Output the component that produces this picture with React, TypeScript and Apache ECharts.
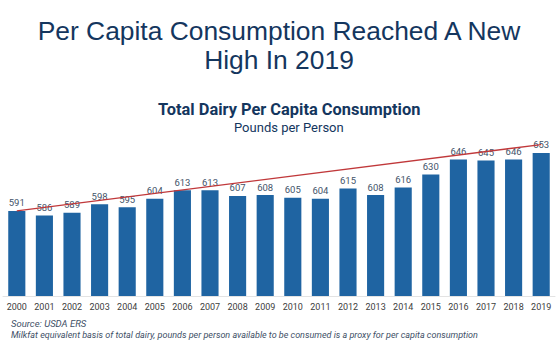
import React, { useEffect, useRef } from "react";
import * as echarts from "echarts";

const years = ["2000","2001","2002","2003","2004","2005","2006","2007","2008","2009","2010","2011","2012","2013","2014","2015","2016","2017","2018","2019"];
const consumption = [591,586,589,598,595,604,613,613,607,608,605,604,615,608,616,630,646,645,646,653];
const trendLine: (number | null)[] = [591,null,null,null,null,null,null,null,null,null,null,null,null,null,null,null,null,null,null,662];

export default function App() {
  const ref = useRef<HTMLDivElement>(null);
  useEffect(() => {
    if (!ref.current) return;
    const chart = echarts.init(ref.current, null, { renderer: "svg" });
    chart.setOption({
      animation: false,
      backgroundColor: "#ffffff",
      title: [
        {
          text: "Per Capita Consumption Reached A New\nHigh In 2019",
          left: "center",
          top: 11,
          textStyle: { fontFamily: "Liberation Sans", fontSize: 26.4, fontWeight: "normal", color: "#14365e", lineHeight: 29 },
        },
        {
          text: "Total Dairy Per Capita Consumption",
          left: 153,
          top: 96,
          textStyle: { fontFamily: "Roboto", fontSize: 16.4, fontWeight: "bold", color: "#14365e" },
        },
        {
          text: "Pounds per Person",
          left: 229,
          top: 116,
          textStyle: { fontFamily: "Roboto", fontSize: 13, fontWeight: "normal", color: "#14365e" },
        },
        {
          text: "Source: USDA ERS",
          left: 6,
          top: 313,
          textStyle: { fontFamily: "Roboto", fontSize: 9.5, fontStyle: "italic", fontWeight: "normal", color: "#3e4f66" },
        },
        {
          text: "Milkfat equivalent basis of total dairy, pounds per person available to be consumed is a proxy for per capita consumption",
          left: 6,
          top: 325,
          textStyle: { fontFamily: "Roboto", fontSize: 9, fontStyle: "italic", fontWeight: "normal", color: "#3e4f66" },
        },
      ],
      grid: { left: 3, right: 3, top: 109, bottom: 54 },
      xAxis: {
        type: "category",
        data: years,
        axisLine: { lineStyle: { color: "#e3e3e3" } },
        axisTick: { show: false },
        axisLabel: { fontFamily: "Roboto", fontSize: 9, color: "#404040", margin: 6, interval: 0 },
      },
      yAxis: { type: "value", min: 500, max: 700, show: false, splitLine: { show: false } },
      series: [
        {
          type: "bar",
          data: consumption,
          barWidth: "62%",
          itemStyle: { color: "#1f64a2" },
          label: { show: true, position: "top", distance: 3, fontFamily: "Roboto", fontSize: 9.5, color: "#44546a" },
          z: 2,
        },
        {
          type: "line",
          data: trendLine,
          connectNulls: true,
          symbol: "none",
          lineStyle: { color: "#c0383a", width: 1.3 },
          z: 3,
        },
      ],
    });
    return () => chart.dispose();
  }, []);
  return <div ref={ref} style={{ width: 558, height: 350, position: "absolute", left: 0, top: 0 }} />;
}
